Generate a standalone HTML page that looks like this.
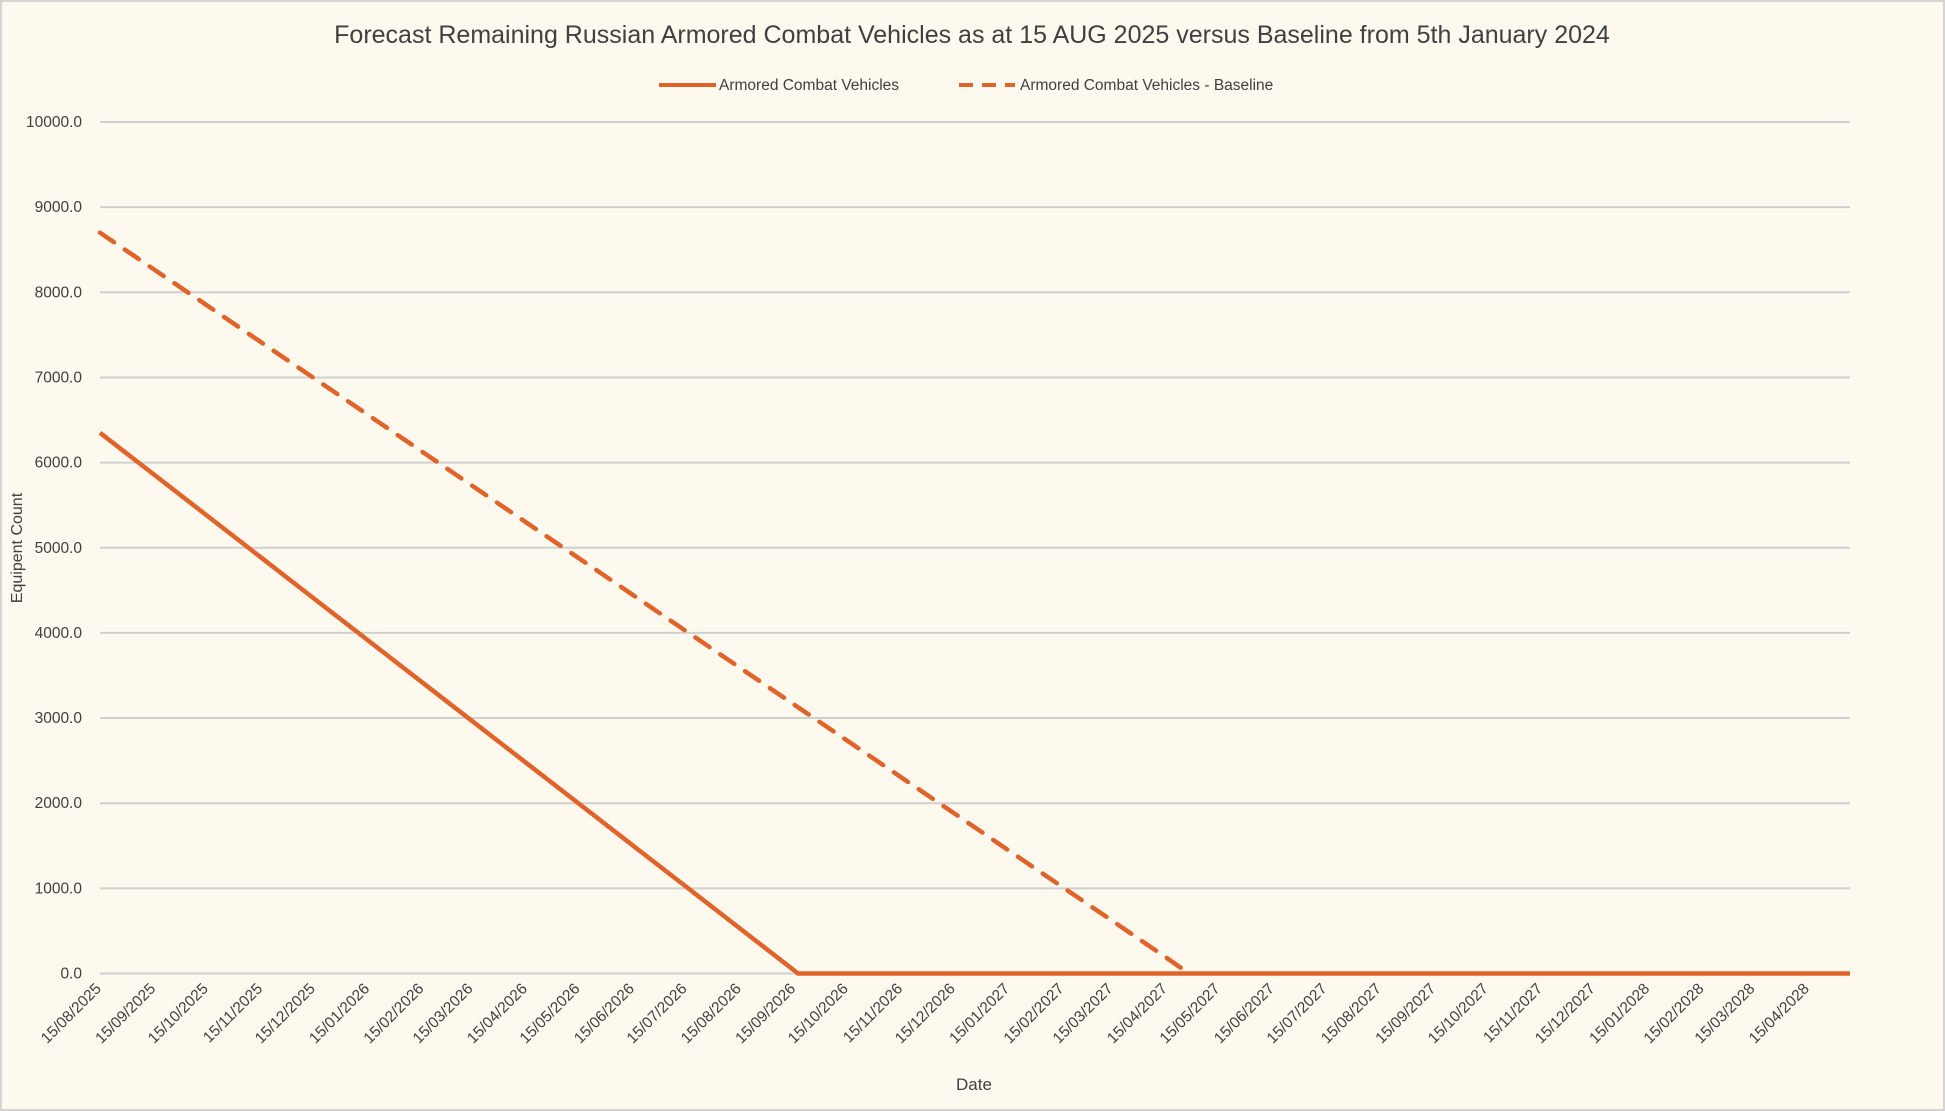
<!DOCTYPE html>
<html><head><meta charset="utf-8">
<style>
html,body{margin:0;padding:0;background:#fff;}
svg{display:block;font-family:"Liberation Sans",sans-serif;}
</style></head>
<body>
<svg id="chart" width="1945" height="1111" viewBox="0 0 1945 1111" xmlns="http://www.w3.org/2000/svg">
<rect x="1" y="1" width="1943" height="1109" fill="#FEF9EE" stroke="#d4d4d4" stroke-width="2"/>
<text x="972" y="43" text-anchor="middle" font-size="25" fill="#404040">Forecast Remaining Russian Armored Combat Vehicles as at 15 AUG 2025 versus Baseline from 5th January 2024</text>
<g>
<g>
<line x1="659" y1="85" x2="716" y2="85" stroke="#E0632A" stroke-width="4"/>
<text x="719" y="90" font-size="15.5" fill="#404040">Armored Combat Vehicles</text>
</g>
<g>
<line x1="959" y1="85" x2="1015" y2="85" stroke="#E0632A" stroke-width="4" stroke-dasharray="14,9"/>
<text x="1020" y="90" font-size="15.5" fill="#404040">Armored Combat Vehicles - Baseline</text>
</g>
</g>
<g id="grid"></g>
<g id="yticks"></g>
<g id="xticks"></g>
<g id="series"></g>
<text transform="translate(22,548) rotate(-90)" text-anchor="middle" font-size="16" fill="#404040">Equipent Count</text>
<text x="974" y="1090" text-anchor="middle" font-size="17" fill="#404040">Date</text>
</svg>
<script>
const yTicks = [0,1000,2000,3000,4000,5000,6000,7000,8000,9000,10000];
const xTickLabels = ["15/08/2025","15/09/2025","15/10/2025","15/11/2025","15/12/2025","15/01/2026","15/02/2026","15/03/2026","15/04/2026","15/05/2026","15/06/2026","15/07/2026","15/08/2026","15/09/2026","15/10/2026","15/11/2026","15/12/2026","15/01/2027","15/02/2027","15/03/2027","15/04/2027","15/05/2027","15/06/2027","15/07/2027","15/08/2027","15/09/2027","15/10/2027","15/11/2027","15/12/2027","15/01/2028","15/02/2028","15/03/2028","15/04/2028"];
const actualDates = ["2025-08-15","2025-09-15","2025-10-15","2025-11-15","2025-12-15","2026-01-15","2026-02-15","2026-03-15","2026-04-15","2026-05-15","2026-06-15","2026-07-15","2026-08-15","2026-09-15","2026-09-17","2028-05-09"];
const actualValues = [6350,5856,5377,4883,4404,3910,3415,2969,2474,1996,1501,1023,528,34,0,0];
const baselineDates = ["2025-08-15","2025-09-15","2025-10-15","2025-11-15","2025-12-15","2026-01-15","2026-02-15","2026-03-15","2026-04-15","2026-05-15","2026-06-15","2026-07-15","2026-08-15","2026-09-15","2026-10-15","2026-11-15","2026-12-15","2027-01-15","2027-02-15","2027-03-15","2027-04-15","2027-04-28"];
const baselineValues = [8700,8266,7846,7412,6992,6558,6124,5732,5298,4878,4444,4024,3590,3156,2736,2302,1882,1448,1014,622,188,0];

const NS = "http://www.w3.org/2000/svg";
const X0 = 100, X1 = 1850, Y0 = 973.5, Y1 = 122;
const startT = Date.UTC(2025,7,15), endT = Date.UTC(2028,4,9);
function parseD(s){const p=s.split("-");return Date.UTC(+p[0],+p[1]-1,+p[2]);}
function parseL(s){const p=s.split("/");return Date.UTC(+p[2],+p[1]-1,+p[0]);}
function xs(t){return X0+(t-startT)/(endT-startT)*(X1-X0);}
function ys(v){return Y0-(v-0)/(10000-0)*(Y0-Y1);}
function mk(tag,attrs,parent){const e=document.createElementNS(NS,tag);for(const k in attrs)e.setAttribute(k,attrs[k]);parent.appendChild(e);return e;}

const grid=document.getElementById("grid"), yt=document.getElementById("yticks"), xt=document.getElementById("xticks"), se=document.getElementById("series");
yTicks.forEach(v=>{
  const l=mk("line",{x1:X0,x2:X1,y1:ys(v),y2:ys(v),stroke:"#d0d0d0","stroke-width":2},grid);
  
  
  const t=mk("text",{x:82,y:ys(v)+5,"text-anchor":"end","font-size":15.5,fill:"#404040"},yt);
  t.textContent=v.toFixed(1);
  
  
});
xTickLabels.forEach(s=>{
  const x=xs(parseL(s));
  const t=mk("text",{transform:`translate(${x+2},${Y0+16}) rotate(-45)`,"text-anchor":"end","font-size":15.5,fill:"#404040"},xt);
  t.textContent=s;
  
  
});
function pts(d,v){return d.map((s,i)=>xs(parseD(s)).toFixed(1)+","+ys(v[i]).toFixed(1)).join(" ");}
const pb=mk("polyline",{points:pts(baselineDates,baselineValues),fill:"none",stroke:"#E0632A","stroke-width":4.5,"stroke-dasharray":"17,13","stroke-linecap":"round"},se);


const pa=mk("polyline",{points:pts(actualDates,actualValues),fill:"none",stroke:"#E0632A","stroke-width":4.5,"stroke-linejoin":"round"},se);


</script>
</body></html>
